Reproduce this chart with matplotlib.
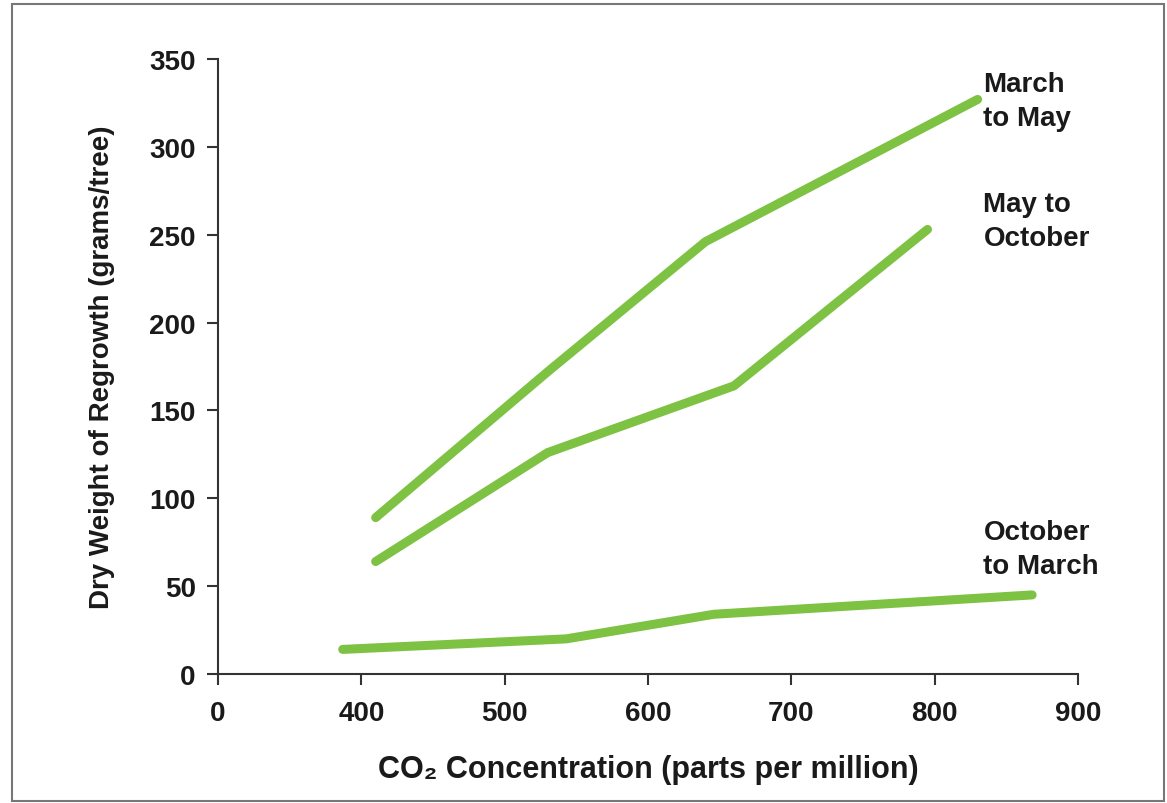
import matplotlib
matplotlib.use("Agg")
import matplotlib.pyplot as plt
from matplotlib.patches import Rectangle

plt.rcParams['font.family'] = ['Liberation Sans', 'DejaVu Sans']

# Data (x in ppm; the axis is broken: "0" drawn one step left of 400)
mar_may_x = [410, 530, 640, 830]
mar_may_y = [89, 172, 246, 327]
may_oct_x = [410, 530, 660, 795]
may_oct_y = [64, 126, 164, 253]
oct_mar_x = [387, 543, 646, 868]
oct_mar_y = [14, 20, 34, 45]

series_labels = ["March\nto May", "May to\nOctober", "October\nto March"]
label_y = [326, 258, 71]

xtick_pos = [300, 400, 500, 600, 700, 800, 900]
xtick_labels = ["0", "400", "500", "600", "700", "800", "900"]
ytick_pos = [0, 50, 100, 150, 200, 250, 300, 350]

green = "#7dc242"
txt = "#1a1a1a"
fs = 20

fig = plt.figure(figsize=(11.67, 8.04), dpi=100)
fig.patches.append(Rectangle((12/1167, 2/804), (1164-12)/1167, (799-2)/804,
                             transform=fig.transFigure, fill=False,
                             edgecolor="#777777", linewidth=1.5))
ax = fig.add_axes([218/1167, (804-675)/804, (1078-218)/1167, (675-60)/804])

for xs, ys in [(mar_may_x, mar_may_y), (may_oct_x, may_oct_y), (oct_mar_x, oct_mar_y)]:
    ax.plot(xs, ys, color=green, linewidth=6.5, solid_capstyle='round',
            solid_joinstyle='round')

ax.set_xlim(300, 900)
ax.set_ylim(0, 350)
ax.set_xticks(xtick_pos)
ax.set_xticklabels(xtick_labels)
ax.set_yticks(ytick_pos)

for s in ['top', 'right']:
    ax.spines[s].set_visible(False)
for s in ['left', 'bottom']:
    ax.spines[s].set_color('#333333')
    ax.spines[s].set_linewidth(1.5)

ax.tick_params(axis='both', direction='out', length=8, width=1.5, color='#333333',
               labelsize=fs, labelcolor=txt)
ax.tick_params(axis='x', pad=11)
ax.tick_params(axis='y', pad=8)
for lab in ax.get_xticklabels() + ax.get_yticklabels():
    lab.set_fontweight('bold')

ax.set_ylabel("Dry Weight of Regrowth (grams/tree)", fontsize=20, fontweight='bold',
              color=txt, labelpad=25)
ax.set_xlabel("CO\u2082 Concentration (parts per million)", fontsize=22,
              fontweight='bold', color=txt, labelpad=20)

for lab, yv in zip(series_labels, label_y):
    ax.text(834, yv, lab, fontsize=fs, fontweight='bold', color=txt,
            ha='left', va='center', linespacing=1.4, clip_on=False)

fig.savefig("out.png", dpi=100)
